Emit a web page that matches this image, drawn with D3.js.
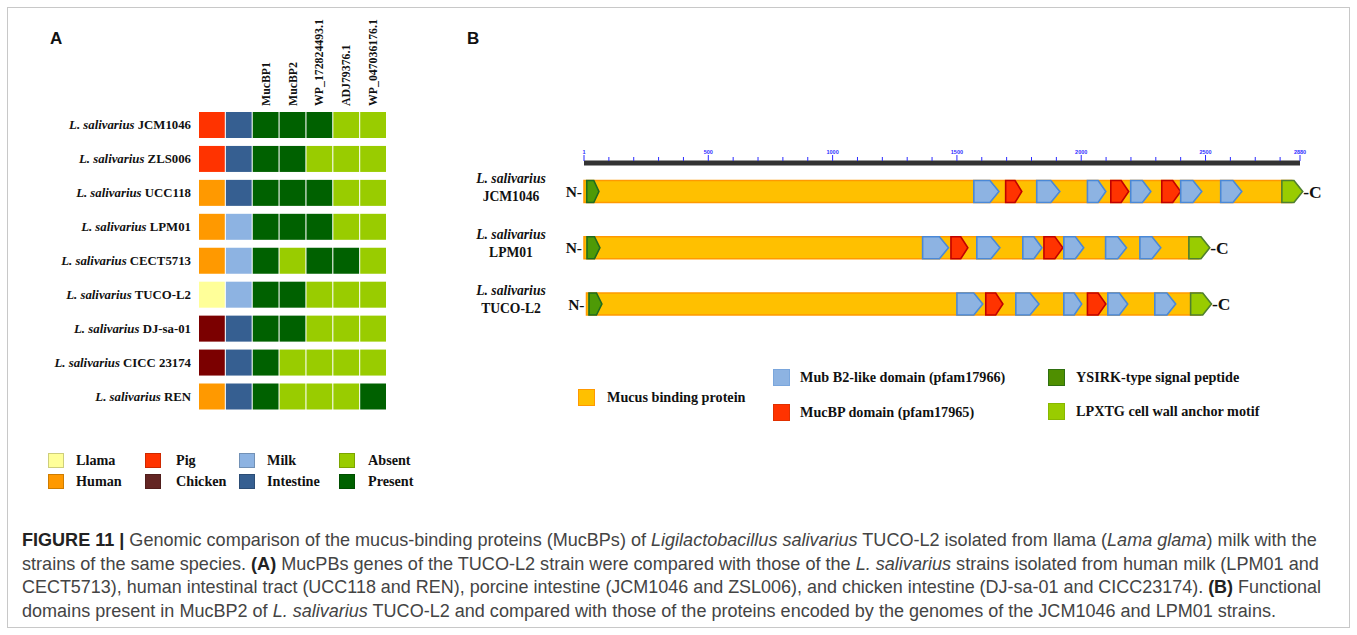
<!DOCTYPE html>
<html><head><meta charset="utf-8">
<script src="https://cdn.jsdelivr.net/npm/d3@7"></script>
<style>
html,body{margin:0;padding:0;background:#fff;}
svg{display:block;}
</style>
</head><body>
<svg id="fig" width="1357" height="635"></svg>
<script>
// ---------- Panel A data ----------
const strains = ["JCM1046","ZLS006","UCC118","LPM01","CECT5713","TUCO-L2","DJ-sa-01","CICC 23174","REN"];
const hostOf = ["Pig","Pig","Human","Human","Human","Llama","Chicken","Chicken","Human"];
const sourceOf = ["Intestine","Intestine","Intestine","Milk","Milk","Milk","Intestine","Intestine","Intestine"];
const genes = ["MucBP1","MucBP2","WP_172824493.1","ADJ79376.1","WP_047036176.1"];
const presence = [
  [1,1,1,0,0],
  [1,1,0,0,0],
  [1,1,1,0,0],
  [1,1,1,0,0],
  [1,0,1,1,0],
  [1,1,0,0,0],
  [1,1,0,0,0],
  [1,0,0,0,0],
  [1,0,0,0,1]
];
const legendA = [["Llama","Human"],["Pig","Chicken"],["Milk","Intestine"],["Absent","Present"]];

// ---------- Panel B data ----------
const proteinStrains = ["JCM1046","LPM01","TUCO-L2"];
const proteinStart = [0, 0, 10];
const proteinEnd = [2847, 2473, 2480];
const domainsJCM1046 = [
  ["ysirk",11,60],["mub",1568,1669],["mucbp",1696,1761],["mub",1821,1914],["mub",2025,2099],
  ["mucbp",2119,2191],["mub",2199,2280],["mucbp",2324,2400],["mub",2400,2485],["mub",2561,2646],["lpxtg",2807,2891]
];
const domainsLPM01 = [
  ["ysirk",12,64],["mub",1362,1466],["mucbp",1476,1544],["mub",1580,1673],["mub",1765,1842],
  ["mucbp",1850,1926],["mub",1930,2010],["mub",2098,2182],["mub",2236,2320],["lpxtg",2433,2517]
];
const domainsTUCO = [
  ["ysirk",20,72],["mub",1500,1604],["mucbp",1616,1685],["mub",1737,1830],["mub",1930,2002],
  ["mucbp",2025,2099],["mub",2107,2187],["mub",2296,2380],["lpxtg",2440,2524]
];
const proteinDomains = [domainsJCM1046, domainsLPM01, domainsTUCO];
const rulerMax = 2880;
const rulerLabels = [1,500,1000,1500,2000,2500,2880];
const legendBItems = ["Mucus binding protein","Mub B2-like domain (pfam17966)","MucBP domain (pfam17965)","YSIRK-type signal peptide","LPXTG cell wall anchor motif"];

// ---------- Caption ----------
const captionLines = [
  [["b","FIGURE 11 |"],["n"," Genomic comparison of the mucus-binding proteins (MucBPs) of "],["i","Ligilactobacillus salivarius"],["n"," TUCO-L2 isolated from llama ("],["i","Lama glama"],["n",") milk with the"]],
  [["n","strains of the same species. "],["b","(A)"],["n"," MucPBs genes of the TUCO-L2 strain were compared with those of the "],["i","L. salivarius"],["n"," strains isolated from human milk (LPM01 and"]],
  [["n","CECT5713), human intestinal tract (UCC118 and REN), porcine intestine (JCM1046 and ZSL006), and chicken intestine (DJ-sa-01 and CICC23174). "],["b","(B)"],["n"," Functional"]],
  [["n","domains present in MucBP2 of "],["i","L. salivarius"],["n"," TUCO-L2 and compared with those of the proteins encoded by the genomes of the JCM1046 and LPM01 strains."]]
];

// ---------- colours ----------
const catColor = {
  Llama:"#ffff99", Human:"#ff9900", Pig:"#ff3300", Chicken:"#7b0000",
  Milk:"#8db3e2", Intestine:"#365f91", Absent:"#99cc00", Present:"#006100"
};
const legendColor = Object.assign({}, catColor, {Chicken:"#632523"});
const domFill = {mub:"#8db3e2", mucbp:"#ff3300", ysirk:"#4e9a06", lpxtg:"#99cc00"};
const domStroke = {mub:"#4a88d6", mucbp:"#c00000", ysirk:"#1f6b1f", lpxtg:"#4f7f2f"};

const svg = d3.select("#fig");
const serif = "'Liberation Serif','Times New Roman',serif";
const sans = "'Liberation Sans',Arial,sans-serif";

// outer frame
svg.append("rect").attr("x",7.5).attr("y",7.5).attr("width",1342).attr("height",620)
  .attr("fill","none").attr("stroke","#c8c8c8").attr("stroke-width",1);

// panel letters
svg.append("text").attr("x",50).attr("y",44).text("A")
  .attr("font-family",sans).attr("font-weight","bold").attr("font-size",17).attr("fill","#111");
svg.append("text").attr("x",467).attr("y",44).text("B")
  .attr("font-family",sans).attr("font-weight","bold").attr("font-size",17).attr("fill","#111");

// ---------- Panel A ----------
const columns = ["host","source"].concat(genes);
const xA = d3.scaleBand().domain(columns).range([199, 386]).paddingInner(0.04);
const yA = d3.scaleBand().domain(strains).range([112, 409.5]).paddingInner(0.234);

const gA = svg.append("g");
strains.forEach((s, i) => {
  const cells = [
    {col:"host", cat:hostOf[i]},
    {col:"source", cat:sourceOf[i]}
  ].concat(genes.map((g, j) => ({col:g, cat: presence[i][j] ? "Present" : "Absent"})));
  gA.selectAll(null).data(cells).enter().append("rect")
    .attr("x", d => xA(d.col)).attr("y", yA(s))
    .attr("width", xA.bandwidth()).attr("height", yA.bandwidth())
    .attr("fill", d => catColor[d.cat]);
  const t = gA.append("text").attr("x",191).attr("y", yA(s) + yA.bandwidth()/2 + 4.5)
    .attr("text-anchor","end").attr("font-family",serif).attr("font-weight","bold")
    .attr("font-size",12.8).attr("fill","#111");
  t.append("tspan").attr("font-style","italic").text("L. salivarius ");
  t.append("tspan").text(s);
});
gA.selectAll(null).data(genes).enter().append("text")
  .attr("transform", d => `translate(${xA(d) + xA.bandwidth()/2 + 4},106) rotate(-90)`)
  .attr("font-family",serif).attr("font-weight","bold").attr("font-size",11.8).attr("fill","#111")
  .text(d => d);

// legend A
const legAx = [48, 145, 239, 339];
const legAtx = [28, 31, 28, 29];
const legAy = [453, 474];
legendA.forEach((pair, c) => {
  pair.forEach((name, r) => {
    const col = legendColor[name];
    svg.append("rect").attr("x", legAx[c]+0.5).attr("y", legAy[r]+0.5).attr("width",15).attr("height",14)
      .attr("fill", col).attr("stroke", d3.color(col).darker(0.6)).attr("stroke-width",1);
    svg.append("text").attr("x", legAx[c] + legAtx[c]).attr("y", legAy[r] + 12)
      .attr("font-family",serif).attr("font-weight","bold").attr("font-size",14.2).attr("fill","#111")
      .text(name);
  });
});

// ---------- Panel B ----------
const xB = d3.scaleLinear().domain([0, rulerMax]).range([584, 1300]);
const yB = d3.scalePoint().domain(proteinStrains).range([191.5, 304]);
const barH = 22;
const gB = svg.append("g");

// ruler
gB.append("rect").attr("x", xB(0)).attr("y",160.5).attr("width", xB(rulerMax)-xB(0)).attr("height",5)
  .attr("fill","#333");
const minorTicks = d3.range(0, rulerMax, 100).concat([rulerMax]);
gB.selectAll(null).data(minorTicks).enter().append("line")
  .attr("x1", d => xB(d)).attr("x2", d => xB(d))
  .attr("y1", d => (d % 500 === 0 || d === rulerMax) ? 155 : 157).attr("y2",161)
  .attr("stroke","#2b2bff").attr("stroke-width",1);
gB.selectAll(null).data(rulerLabels).enter().append("text")
  .attr("x", d => xB(d === 1 ? 0 : d)).attr("y",154)
  .attr("text-anchor","middle").attr("font-family",sans).attr("font-size",5.5).attr("font-weight","bold")
  .attr("fill","#2b2bff").text(d => d);

function pentagon(x0, x1, yc, h) {
  const tip = Math.min(9, (x1 - x0) * 0.42);
  const t = yc - h/2, b = yc + h/2;
  return [[x0,t],[x1-tip,t],[x1,yc],[x1-tip,b],[x0,b]].map(p => p.join(",")).join(" ");
}

proteinStrains.forEach((s, i) => {
  const yc = yB(s);
  gB.append("rect").attr("x", xB(proteinStart[i])).attr("y", yc - barH/2)
    .attr("width", xB(proteinEnd[i]) - xB(proteinStart[i])).attr("height", barH)
    .attr("fill","#ffc000").attr("stroke","#ff9900").attr("stroke-width",1.5);
  gB.selectAll(null).data(proteinDomains[i]).enter().append("polygon")
    .attr("points", d => pentagon(xB(d[1]), xB(d[2]), yc, barH))
    .attr("fill", d => domFill[d[0]]).attr("stroke", d => domStroke[d[0]]).attr("stroke-width",1.6)
    .attr("stroke-linejoin","miter");
  const lab = gB.append("text").attr("text-anchor","middle").attr("font-family",serif)
    .attr("font-weight","bold").attr("font-size",13.6).attr("fill","#111");
  lab.append("tspan").attr("x",511).attr("y", yc - 9).attr("font-style","italic").text("L. salivarius");
  lab.append("tspan").attr("x",511).attr("y", yc + 9).text(s);
  gB.append("text").attr("x", xB(proteinStart[i]) - 2).attr("y", yc + 5.5).attr("text-anchor","end")
    .attr("font-family",serif).attr("font-weight","bold").attr("font-size",15.5).attr("fill","#111").text("N-");
  const last = proteinDomains[i][proteinDomains[i].length - 1];
  gB.append("text").attr("x", xB(last[2]) + 0.5).attr("y", yc + 6).attr("text-anchor","start")
    .attr("font-family",serif).attr("font-weight","bold").attr("font-size",17.5).attr("fill","#111").text("-C");
});

// legend B
const legB = [
  {x:578, y:389, fill:"#ffc000", stroke:"#ff9900", tx:607},
  {x:773, y:369, fill:domFill.mub, stroke:"#7aa6dc", tx:800},
  {x:773, y:404, fill:domFill.mucbp, stroke:"#e03000", tx:800},
  {x:1048, y:369, fill:"#4f8f00", stroke:"#2f6f10", tx:1076},
  {x:1048, y:403, fill:domFill.lpxtg, stroke:"#88b800", tx:1076}
];
legB.forEach((d, k) => {
  svg.append("rect").attr("x", d.x + 0.5).attr("y", d.y + 0.5).attr("width",16).attr("height",16)
    .attr("fill", d.fill).attr("stroke", d.stroke).attr("stroke-width",1);
  svg.append("text").attr("x", d.tx).attr("y", d.y + 12.5)
    .attr("font-family",serif).attr("font-weight","bold").attr("font-size",14.2).attr("fill","#111")
    .text(legendBItems[k]);
});

// ---------- caption ----------
const capY = [545.5, 569.5, 593, 616.5];
const capTarget = [1296, 1298, 1300, null];
const capNodes = captionLines.map((line, i) => {
  const g = svg.append("g");
  const t = g.append("text").attr("x",0).attr("y",0)
    .attr("font-family",sans).attr("font-size",18).attr("fill","#444");
  line.forEach(([st, txt]) => {
    const sp = t.append("tspan").text(txt);
    if (st === "b") sp.attr("font-weight","bold").attr("fill","#222");
    if (st === "i") sp.attr("font-style","italic");
  });
  return {g, t, w: t.node().getComputedTextLength()};
});
const capRatio = d3.mean(capNodes.slice(0,3), (n, i) => capTarget[i] / n.w);
capNodes.forEach((n, i) => {
  const sx = capTarget[i] ? capTarget[i] / n.w : capRatio;
  n.g.attr("transform", `translate(22,${capY[i]}) scale(${sx},1)`);
});
</script>
</body></html>
